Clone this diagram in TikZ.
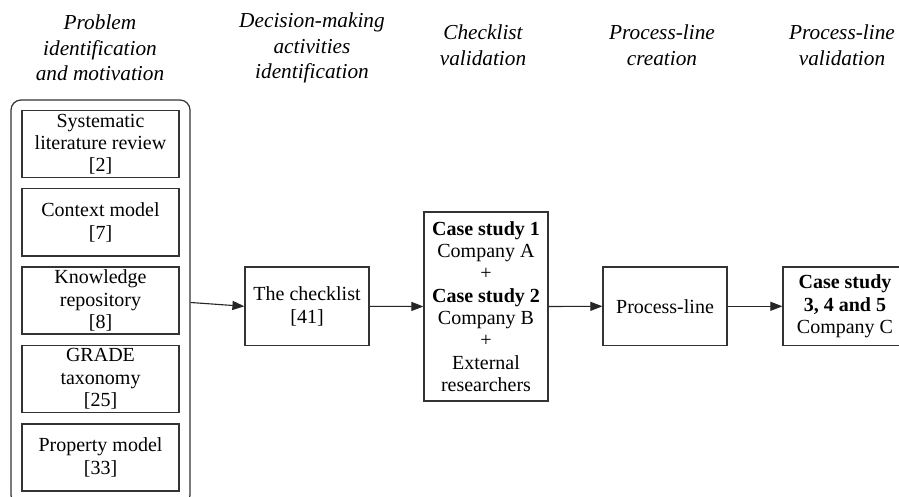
\documentclass[tikz,border=0pt]{standalone}
\usepackage{fontspec}
\setmainfont{Liberation Serif}
\usetikzlibrary{arrows.meta}

\tikzset{
  phase/.style={font=\itshape\fontsize{21.3}{25.6}\selectfont, align=center, inner sep=0pt},
  stepbox/.style={draw=black!80, line width=1.2pt, rectangle, align=center,
    minimum width=124pt, inner sep=2pt, font=\fontsize{20}{22.3}\selectfont},
  inbox/.style={stepbox, minimum width=157pt, minimum height=67pt},
  group/.style={draw=black!80, line width=1.2pt, rounded corners=10pt, inner sep=0pt,
    minimum width=179pt, minimum height=405pt},
  flow/.style={draw=black!85, line width=1.1pt, -{Triangle[length=12pt,width=9pt]}}
}

\begin{document}
\begin{tikzpicture}[x=1pt, y=-1pt]
  \path[use as bounding box] (0,0) rectangle (899,497);
  \clip (0,0) rectangle (899,497);
  \fill[white] (0,0) rectangle (899,497);

  % phase headings
  \node[phase] (h1) at (100,48) {Problem\\identification\\and motivation};
  \node[phase] (h2) at (312,48) {Decision-making\\activities\\identification};
  \node[phase] (h3) at (483,45) {Checklist\\validation};
  \node[phase] (h4) at (662,45) {Process-line\\creation};
  \node[phase] (h5) at (842,45) {Process-line\\validation};

  % grouped inputs
  \node[group] (grp) at (100.5,302.5) {};
  \node[inbox] (slr) at (100.5,144.4) {Systematic\\literature review\\{[2]}};
  \node[inbox] (ctx) at (100.5,222.4) {Context model\\{[7]}};
  \node[inbox] (kr)  at (100.5,300.5) {Knowledge\\repository\\{[8]}};
  \node[inbox] (gr)  at (100.5,378.9) {GRADE\\taxonomy\\{[25]}};
  \node[inbox] (pm)  at (100.5,457.4) {Property model\\{[33]}};

  % main steps
  \node[stepbox, minimum height=78.5pt] (chk) at (307,306.3) {The checklist\\{[41]}};
  \node[stepbox, minimum height=189pt] (cs12) at (486,306.5)
    {\textbf{Case study 1}\\Company A\\+\\\textbf{Case study 2}\\Company B\\+\\External\\researchers};
  \node[stepbox, minimum height=78.5pt] (pl) at (665,306.3) {Process-line};
  \node[stepbox, minimum height=78.5pt] (cs3) at (845,306.3)
    {\textbf{Case study}\\\textbf{3, 4 and 5}\\Company C};

  % connectors
  \draw[flow] (grp.east) -- (chk.west);
  \draw[flow] (chk.east) -- (cs12.west);
  \draw[flow] (cs12.east) -- (pl.west);
  \draw[flow] (pl.east) -- (cs3.west);
\end{tikzpicture}
\end{document}
